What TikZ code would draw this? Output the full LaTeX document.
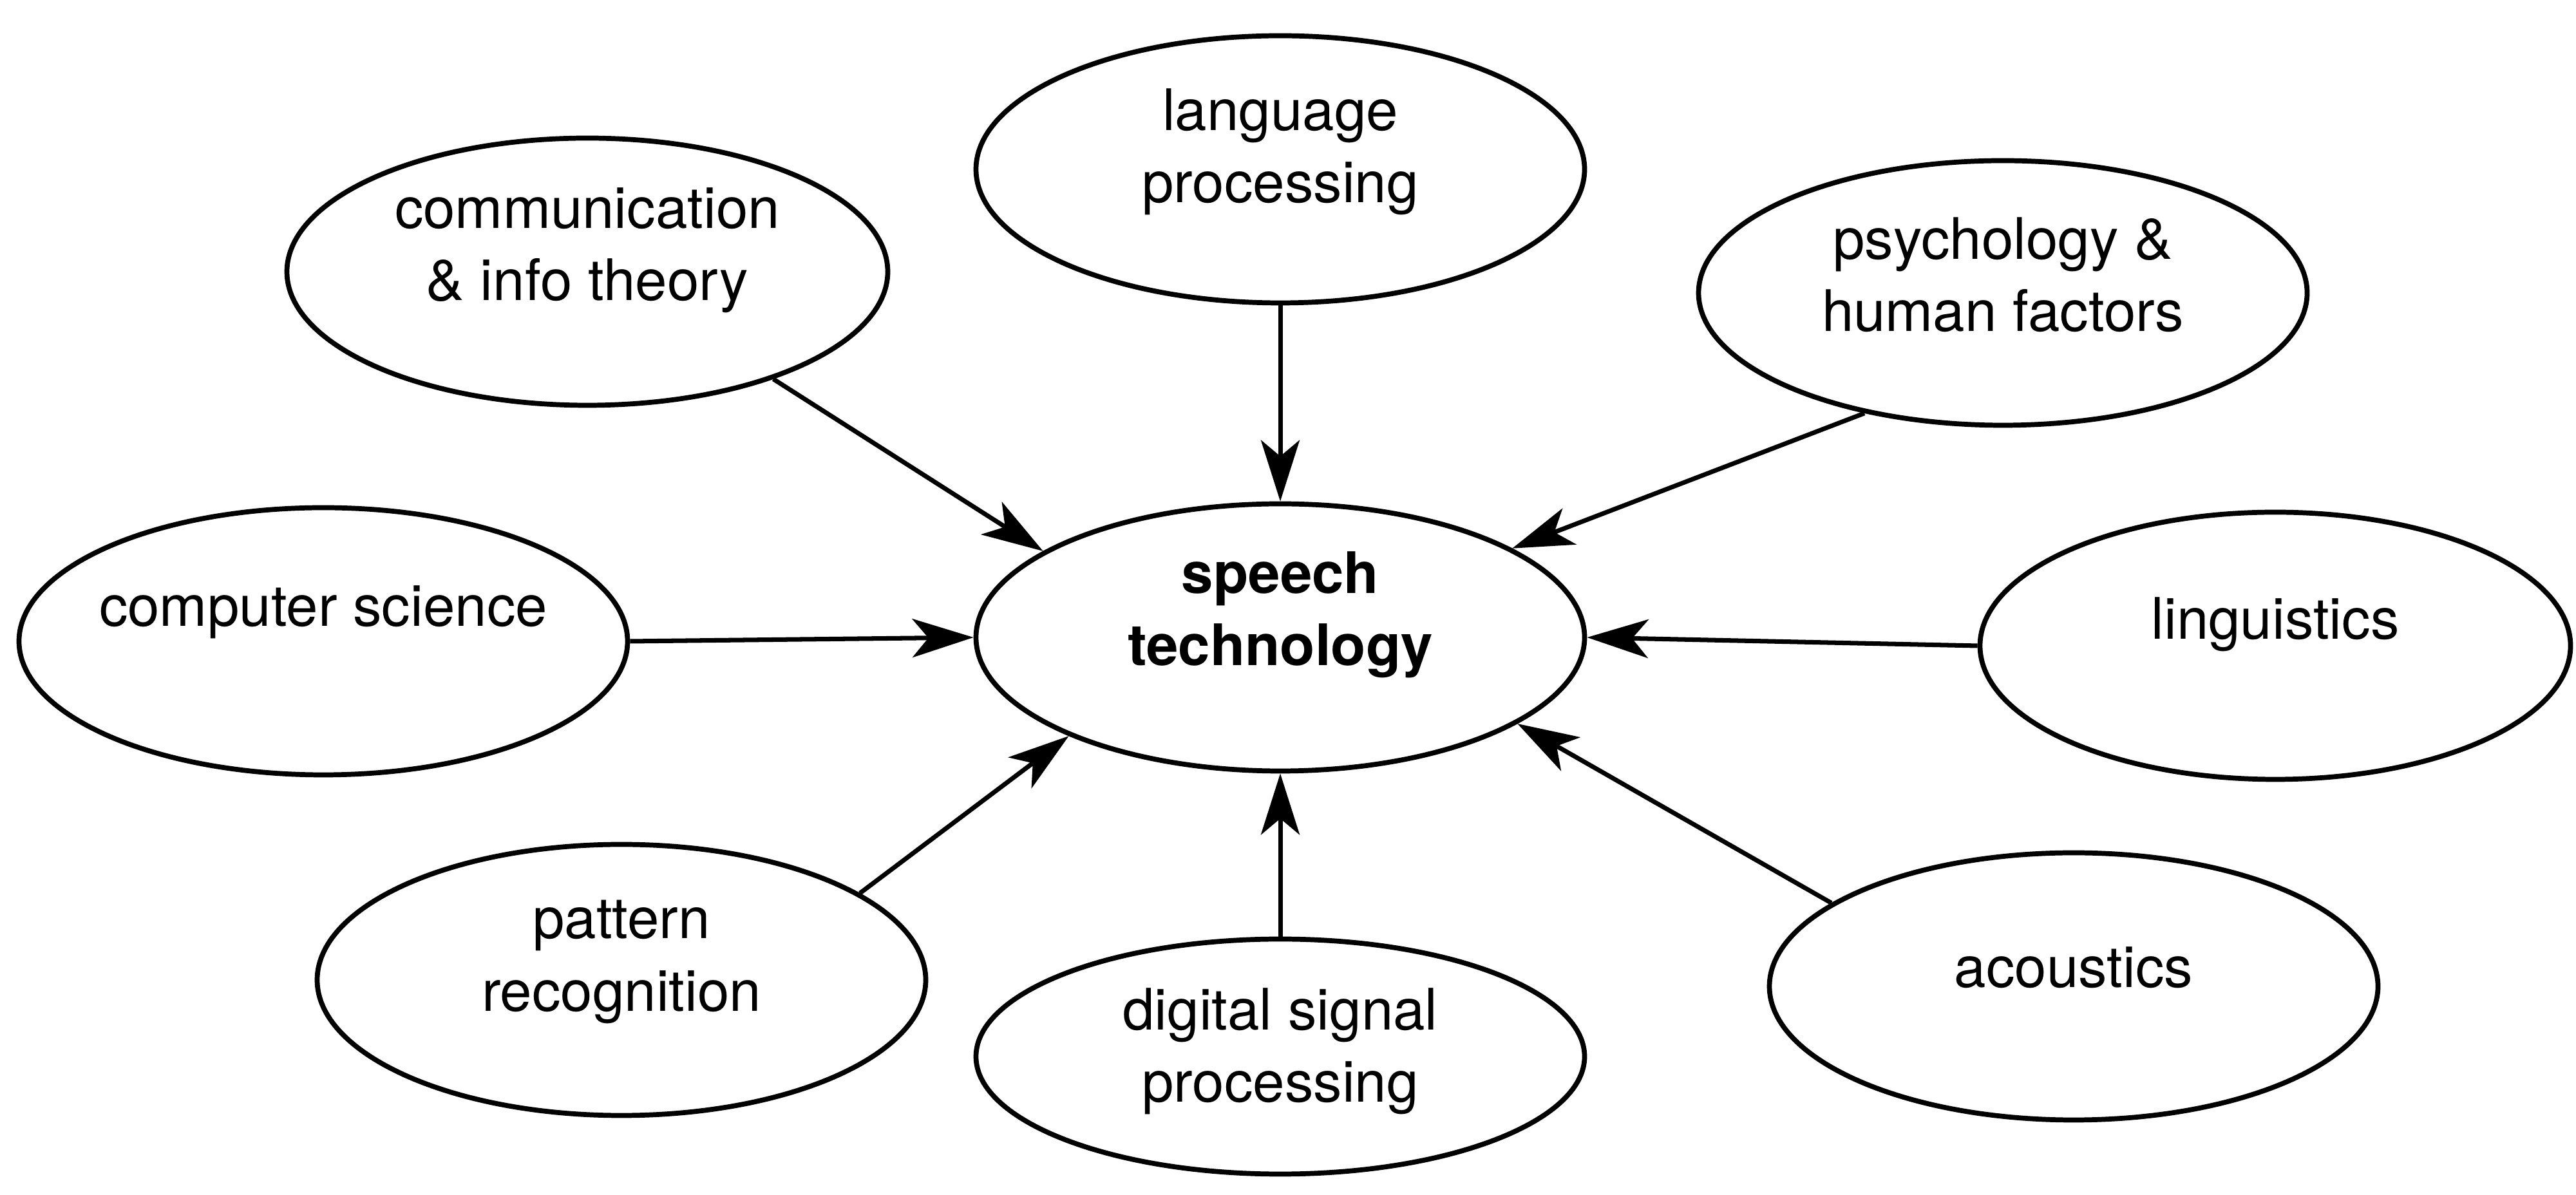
\documentclass[tikz,border=0pt]{standalone}
\usepackage{fontspec}
\setmainfont{TeX Gyre Heros}
\usepackage{tikz}
\usetikzlibrary{arrows.meta,shapes.geometric}

\begin{document}
\begin{tikzpicture}[
    field/.style={ellipse, draw, line width=2.2pt, minimum width=9.45cm, minimum height=4.15cm, inner sep=0pt},
    lbl/.style={align=center, inner sep=0pt, font=\fontsize{25.3}{32}\selectfont},
    feed/.style={-{Stealth[length=9.5mm, width=6mm, inset=2.5mm]}, line width=2pt}
]
    \useasboundingbox (0,0) rectangle (40,18.56);

    \node[field] (speech) at (19.88,8.66) {};
    \node[field] (lang) at (19.88,15.93) {};
    \node[field, minimum width=9.33cm] (comm) at (9.12,14.34) {};
    \node[field, minimum height=4.11cm] (psych) at (31.10,14.01) {};
    \node[field] (comp) at (5.02,8.60) {};
    \node[field, minimum width=9.17cm] (ling) at (35.33,8.53) {};
    \node[field, minimum height=4.21cm] (patt) at (9.65,3.34) {};
    \node[field, minimum height=3.65cm] (dsp) at (19.88,2.15) {};
    \node[field] (acou) at (32.20,3.24) {};

    \node[lbl, font=\fontsize{25.3}{32}\selectfont\bfseries, yshift=0.35cm] (speech-t) at (speech) {speech\\technology};
    \node[lbl, yshift=0.27cm] (lang-t) at (lang) {language\\processing};
    \node[lbl, yshift=0.33cm] (comm-t) at (comm) {communication\\\& info theory};
    \node[lbl, yshift=0.28cm] (psych-t) at (psych) {psychology \&\\human factors};
    \node[lbl, yshift=0.45cm] (comp-t) at (comp) {computer science};
    \node[lbl, yshift=0.33cm] (ling-t) at (ling) {linguistics};
    \node[lbl, yshift=0.28cm] (patt-t) at (patt) {pattern\\recognition};
    \node[lbl, yshift=0.08cm] (dsp-t) at (dsp) {digital signal\\processing};
    \node[lbl, yshift=0.29cm] (acou-t) at (acou) {acoustics};

    \draw[feed] (comm.-30) -- (speech.160);
    \draw[feed] (lang.south) -- (speech.north);
    \draw[feed] (psych.221) -- (speech.21);
    \draw[feed] (comp.east) -- (speech.west);
    \draw[feed] (ling.west) -- (speech.east);
    \draw[feed] (patt.20) -- (speech.205);
    \draw[feed] (dsp.north) -- (speech.south);
    \draw[feed] (acou.161) -- (speech.-20);
\end{tikzpicture}
\end{document}
